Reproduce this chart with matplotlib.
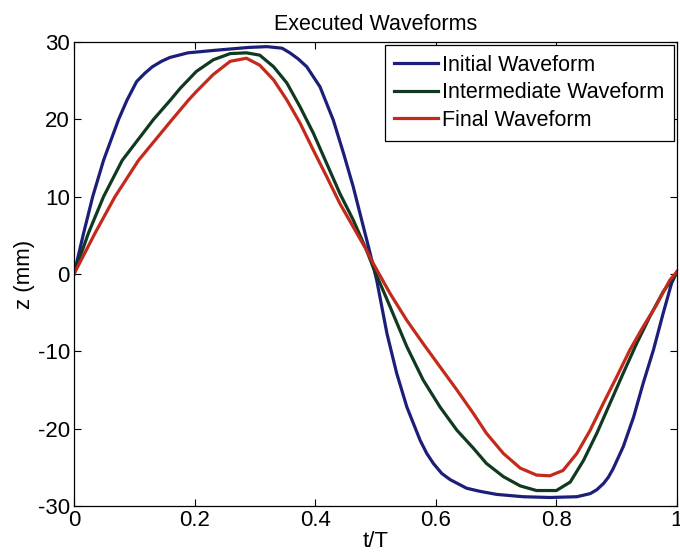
import matplotlib
matplotlib.use("Agg")
import matplotlib.pyplot as plt

plt.rcParams["font.family"] = ["Liberation Sans", "DejaVu Sans"]
plt.rcParams["axes.unicode_minus"] = False

# values (t/T, z in mm)
t_initial = [0, 0.016, 0.031, 0.049, 0.074, 0.088, 0.104, 0.118, 0.130, 0.145,
             0.159, 0.189, 0.23, 0.26, 0.29, 0.32, 0.345, 0.358, 0.372, 0.386,
             0.408, 0.43, 0.447, 0.463, 0.477, 0.491, 0.502, 0.519, 0.535, 0.552,
             0.574, 0.585, 0.596, 0.61, 0.624, 0.651, 0.673, 0.701, 0.745, 0.789,
             0.834, 0.856, 0.867, 0.878, 0.886, 0.894, 0.911, 0.928, 0.944, 0.961,
             0.977, 0.991, 1.0]
z_initial = [0, 5.3, 10.0, 14.7, 20.0, 22.5, 24.9, 26.0, 26.8, 27.5,
             28.0, 28.6, 28.9, 29.1, 29.3, 29.4, 29.2, 28.6, 27.8, 26.8,
             24.2, 19.9, 15.6, 11.3, 7.0, 2.7, -0.8, -7.7, -12.8, -17.2,
             -21.5, -23.2, -24.5, -25.8, -26.6, -27.7, -28.1, -28.5, -28.8, -28.9,
             -28.8, -28.4, -27.9, -27.1, -26.3, -25.2, -22.3, -18.5, -14.1, -9.8,
             -5.1, -1.2, 0.3]

t_inter = [0, 0.024, 0.049, 0.080, 0.132, 0.160, 0.176, 0.203, 0.231, 0.259,
           0.286, 0.308, 0.331, 0.353, 0.375, 0.397, 0.419, 0.441, 0.463, 0.485,
           0.496, 0.524, 0.552, 0.579, 0.607, 0.635, 0.662, 0.684, 0.712, 0.740,
           0.767, 0.80, 0.823, 0.845, 0.867, 0.889, 0.911, 0.933, 0.955, 0.977,
           1.0]
z_inter = [0, 5.3, 10.0, 14.7, 20.0, 22.5, 24.0, 26.2, 27.7, 28.5,
           28.6, 28.3, 26.8, 24.7, 21.6, 18.2, 14.3, 10.4, 7.0, 3.1,
           0.9, -4.2, -9.4, -13.7, -17.2, -20.2, -22.5, -24.5, -26.2, -27.4,
           -28.0, -28.0, -26.9, -24.1, -20.6, -16.7, -12.8, -9.0, -5.5, -2.3,
           0.2]

t_final = [0, 0.035, 0.068, 0.107, 0.163, 0.176, 0.19, 0.203, 0.231, 0.259,
           0.286, 0.308, 0.331, 0.353, 0.375, 0.397, 0.419, 0.441, 0.463, 0.485,
           0.496, 0.524, 0.552, 0.579, 0.607, 0.635, 0.662, 0.684, 0.712, 0.740,
           0.767, 0.789, 0.811, 0.834, 0.856, 0.878, 0.90, 0.922, 0.944, 0.966,
           0.988, 1.0]
z_final = [0, 5.3, 10.0, 14.7, 20.0, 21.2, 22.5, 23.6, 25.8, 27.5,
           27.9, 27.0, 25.1, 22.5, 19.5, 16.0, 12.6, 9.1, 6.1, 3.1,
           1.4, -2.5, -6.0, -9.0, -12.0, -15.0, -18.0, -20.6, -23.2, -25.1,
           -26.0, -26.1, -25.4, -23.2, -20.2, -16.7, -13.3, -9.8, -6.8, -4.0,
           -0.8, 0.3]

x_ticks = [0, 0.2, 0.4, 0.6, 0.8, 1]
x_tick_labels = ["0", "0.2", "0.4", "0.6", "0.8", "1"]
y_ticks = [-30, -20, -10, 0, 10, 20, 30]

fig = plt.figure(figsize=(6.8, 5.54), dpi=100)
ax = fig.add_axes([74 / 680, 1 - 506 / 554, 603 / 680, 464 / 554])

lw = 2.3
ax.plot(t_initial, z_initial, color="#1b1f7a", lw=lw, label="Initial Waveform")
ax.plot(t_inter, z_inter, color="#103a20", lw=lw, label="Intermediate Waveform")
ax.plot(t_final, z_final, color="#c42a1c", lw=lw, label="Final Waveform")

ax.set_xlim(0, 1)
ax.set_ylim(-30, 30)
ax.set_xticks(x_ticks)
ax.set_xticklabels(x_tick_labels)
ax.set_yticks(y_ticks)
ax.tick_params(direction="in", top=True, right=True, length=5, width=0.8,
               labelsize=16, pad=3)
for s in ax.spines.values():
    s.set_linewidth(0.9)

ax.set_title("Executed Waveforms", fontsize=15.5, pad=9)
ax.set_xlabel("t/T", fontsize=16, labelpad=0)
ax.set_ylabel("z (mm)", fontsize=16, labelpad=2)

leg = ax.legend(loc="upper right", fontsize=15.5, fancybox=False,
                edgecolor="black", framealpha=1, handlelength=2.0,
                handletextpad=0.2, labelspacing=0.3, borderpad=0.45,
                borderaxespad=0.15)
leg.get_frame().set_linewidth(0.9)

fig.savefig("out.png", dpi=100)
plt.close(fig)
